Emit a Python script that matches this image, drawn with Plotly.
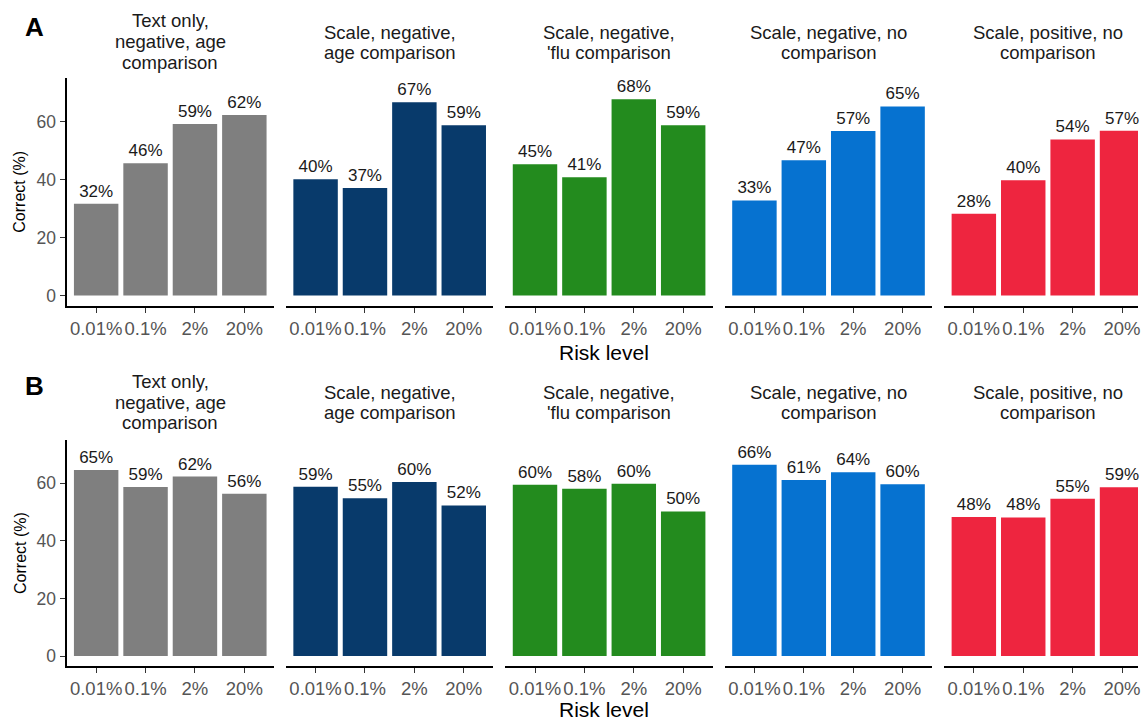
import plotly.graph_objects as go

# ---------------- data ----------------
risk_levels = ["0.01%", "0.1%", "2%", "20%"]
conditions = [
    ["Text only,", "negative, age", "comparison"],
    ["Scale, negative,", "age comparison"],
    ["Scale, negative,", "'flu comparison"],
    ["Scale, negative, no", "comparison"],
    ["Scale, positive, no", "comparison"],
]
condition_colors = ["#7f7f7f", "#083a6b", "#238b1e", "#0672d0", "#ee253f"]

# Panel A: percent correct per condition and risk level
panel_a_text_only = [31.6, 45.6, 59.1, 62.2]
panel_a_scale_neg_age = [40.1, 37.1, 66.6, 58.7]
panel_a_scale_neg_flu = [45.3, 40.8, 67.7, 58.7]
panel_a_scale_neg_none = [32.8, 46.6, 56.7, 65.2]
panel_a_scale_pos_none = [28.2, 39.7, 53.8, 56.8]

# Panel B
panel_b_text_only = [64.6, 58.7, 62.3, 56.3]
panel_b_scale_neg_age = [58.8, 54.8, 60.4, 52.3]
panel_b_scale_neg_flu = [59.5, 58.1, 59.8, 50.2]
panel_b_scale_neg_none = [66.4, 61.1, 63.8, 59.6]
panel_b_scale_pos_none = [48.3, 48.1, 54.6, 58.6]

y_ticks = [0, 20, 40, 60]
panel_letters = ["A", "B"]

rows = [
    [panel_a_text_only, panel_a_scale_neg_age, panel_a_scale_neg_flu,
     panel_a_scale_neg_none, panel_a_scale_pos_none],
    [panel_b_text_only, panel_b_scale_neg_age, panel_b_scale_neg_flu,
     panel_b_scale_neg_none, panel_b_scale_pos_none],
]

# ---------------- layout geometry (pixels) ----------------
W, H = 1141, 720
FONT = "Liberation Sans, Arial, sans-serif"
panel_x0 = 66.7
panel_step = 220.0
panel_w = 208.0
x_lo, x_hi = -0.6, 3.6
unit = panel_w / (x_hi - x_lo)
row_top = [78.0, 440.0]
row_bot = [305.5, 666.0]
y_range = [-3.45, 75.0]
title_center = [41.5, 402.0]
title_center2 = [42.5, 402.5]
title_spacing = [21.0, 20.5]
xlabel_y = [352.0, 709.5]
letter_y = [27.0, 386.0]

fig = go.Figure()
layout = dict(
    width=W, height=H,
    margin=dict(l=0, r=0, t=0, b=0),
    paper_bgcolor="white", plot_bgcolor="white",
    showlegend=False,
    font=dict(family=FONT, color="#1a1a1a"),
    annotations=[],
)

for r, row in enumerate(rows):
    for k, vals in enumerate(row):
        idx = r * 5 + k + 1
        xa = "x" if idx == 1 else f"x{idx}"
        ya = "y" if idx == 1 else f"y{idx}"
        x0 = panel_x0 + k * panel_step
        x1 = x0 + panel_w
        rng_hi = x_hi
        if x1 > W:
            rng_hi = x_lo + (W - x0) / unit
            x1 = W
        fig.add_trace(go.Bar(
            x=risk_levels, y=vals, xaxis=xa, yaxis=ya,
            width=0.9,
            marker=dict(color=condition_colors[k], line=dict(width=0)),
            texttemplate="%{y:.0f}%", textposition="outside",
            textfont=dict(size=17, color="#1a1a1a", family=FONT),
            constraintext="none", cliponaxis=False,
            hoverinfo="skip",
        ))
        layout["xaxis" if idx == 1 else f"xaxis{idx}"] = dict(
            domain=[x0 / W, x1 / W], anchor=ya, type="category",
            range=[x_lo, rng_hi], showgrid=False, zeroline=False,
            showline=True, linecolor="black", linewidth=2,
            ticks="outside", ticklen=5, tickwidth=1, tickcolor="#333333",
            tickfont=dict(size=18.5, color="#555555", family=FONT),
            fixedrange=True,
        )
        first = (k == 0)
        layout["yaxis" if idx == 1 else f"yaxis{idx}"] = dict(
            domain=[1 - row_bot[r] / H, 1 - row_top[r] / H], anchor=xa,
            range=y_range, showgrid=False, zeroline=False,
            showline=first, linecolor="black", linewidth=2,
            ticks="outside" if first else "", ticklen=5, tickwidth=1,
            tickcolor="#333333",
            tickvals=y_ticks, showticklabels=first,
            tickfont=dict(size=17.5, color="#555555", family=FONT),
            fixedrange=True,
        )
        lines = conditions[k]
        n = len(lines)
        c = title_center[r] if n == 3 else title_center2[r]
        sp = title_spacing[r] if n == 3 else 20.0
        for j, line in enumerate(lines):
            yc = c + (j - (n - 1) / 2) * sp
            layout["annotations"].append(dict(
                text=line, xref="paper", yref="paper",
                x=(x0 + panel_w / 2) / W, y=1 - yc / H,
                xanchor="center", yanchor="middle", showarrow=False,
                font=dict(size=18.5, color="#1a1a1a", family=FONT),
            ))
    # row letter
    layout["annotations"].append(dict(
        text=f"<b>{panel_letters[r]}</b>", xref="paper", yref="paper",
        x=35 / W, y=1 - letter_y[r] / H, xanchor="center", yanchor="middle",
        showarrow=False, font=dict(size=26, color="black", family=FONT),
    ))
    # x title
    layout["annotations"].append(dict(
        text="Risk level", xref="paper", yref="paper",
        x=606 / W,
        y=1 - xlabel_y[r] / H, xanchor="center", yanchor="middle",
        showarrow=False, font=dict(size=21, color="black", family=FONT),
    ))
    # y title
    layout["annotations"].append(dict(
        text="Correct (%)", xref="paper", yref="paper",
        x=20 / W, y=1 - (row_top[r] + row_bot[r]) / 2 / H,
        xanchor="center", yanchor="middle", textangle=-90,
        showarrow=False, font=dict(size=16, color="black", family=FONT),
    ))

fig.update_layout(**layout)
fig.write_html(
    "out.html",
    config={"displayModeBar": False},
    post_script="document.body.style.margin='0';document.body.style.overflow='hidden';",
)
